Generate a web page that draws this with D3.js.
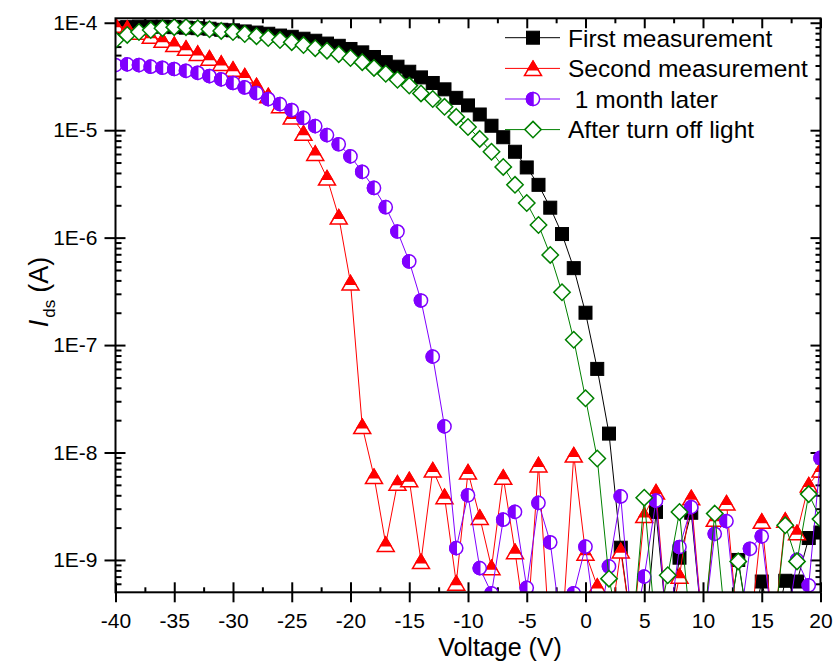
<!DOCTYPE html>
<html>
<head>
<meta charset="utf-8">
<script src="https://cdn.jsdelivr.net/npm/d3@7"></script>
<style>
  body { margin: 0; background: #fff; }
  svg { display: block; font-family: Arial, "Liberation Sans", sans-serif; }
</style>
</head>
<body>
<svg id="chart" width="833" height="664"></svg>
<script>
// Gate voltage sweep (V)
const voltage = [
  -40, -39, -38, -37, -36, -35, -34, -33, -32, -31,
  -30, -29, -28, -27, -26, -25, -24, -23, -22, -21,
  -20, -19, -18, -17, -16, -15, -14, -13, -12, -11,
  -10, -9, -8, -7, -6, -5, -4, -3, -2, -1,
  0, 1, 2, 3, 4, 5, 6, 7, 8, 9,
  10, 11, 12, 13, 14, 15, 16, 17, 18, 19, 20
];

// Drain-source current (A) for each sweep
const firstMeasurement = [
  9.0e-5, 9.1e-5, 9.2e-5, 9.2e-5, 9.2e-5, 9.1e-5, 9.0e-5, 8.9e-5, 8.8e-5, 8.6e-5,
  8.5e-5, 8.3e-5, 8.1e-5, 7.9e-5, 7.6e-5, 7.4e-5, 7.1e-5, 6.8e-5, 6.4e-5, 6.1e-5,
  5.7e-5, 5.3e-5, 4.8e-5, 4.3e-5, 3.9e-5, 3.5e-5, 3.1e-5, 2.75e-5, 2.4e-5, 2.0e-5,
  1.7e-5, 1.4e-5, 1.1e-5, 8.6e-6, 6.3e-6, 4.5e-6, 3.1e-6, 1.9e-6, 1.08e-6, 5.2e-7,
  2.0e-7, 6.0e-8, 1.5e-8, 1.3e-9, 2.0e-10, 1.5e-10, 2.8e-9, 2.0e-10, 1.05e-9, 2.75e-9,
  2.0e-10, 1.5e-10, 2.0e-10, 1.0e-9, 2.0e-10, 6.3e-10, 2.0e-10, 6.4e-10, 6.3e-10, 1.6e-9, 1.8e-9
];

const secondMeasurement = [
  9.5e-5, 8.9e-5, 8.2e-5, 7.5e-5, 6.9e-5, 6.3e-5, 5.8e-5, 5.2e-5, 4.7e-5, 4.2e-5,
  3.7e-5, 3.2e-5, 2.6e-5, 2.1e-5, 1.7e-5, 1.33e-5, 9.4e-6, 6.1e-6, 3.6e-6, 1.56e-6,
  3.8e-7, 1.75e-8, 6.0e-9, 1.4e-9, 5.2e-9, 5.6e-9, 9.7e-10, 6.9e-9, 3.9e-9, 6.1e-10,
  6.6e-9, 2.5e-9, 8.5e-10, 5.9e-9, 1.2e-9, 2.0e-10, 7.7e-9, 1.5e-10, 2.0e-10, 9.5e-9,
  1.16e-9, 5.7e-10, 2.0e-10, 1.22e-9, 2.0e-10, 2.6e-9, 4.3e-9, 2.0e-10, 7.1e-10, 3.8e-9,
  2.0e-10, 2.4e-9, 3.4e-9, 2.0e-10, 2.0e-10, 2.3e-9, 2.0e-10, 2.35e-9, 1.8e-9, 5.0e-9, 6.9e-9
];

const monthLater = [
  4.04e-5, 4.1e-5, 4.04e-5, 3.9e-5, 3.81e-5, 3.71e-5, 3.57e-5, 3.42e-5, 3.19e-5, 2.97e-5,
  2.75e-5, 2.5e-5, 2.22e-5, 1.95e-5, 1.75e-5, 1.54e-5, 1.3e-5, 1.09e-5, 9.0e-6, 7.4e-6,
  5.7e-6, 4.1e-6, 2.9e-6, 1.92e-6, 1.14e-6, 6.0e-7, 2.6e-7, 7.8e-8, 1.75e-8, 1.29e-9,
  4.0e-9, 8.4e-10, 4.9e-10, 2.37e-9, 2.8e-9, 5.5e-10, 3.4e-9, 1.46e-9, 2.0e-10, 4.9e-10,
  1.33e-9, 2.0e-10, 8.7e-10, 3.9e-9, 2.0e-10, 7.0e-10, 3.56e-9, 2.0e-10, 1.32e-9, 3.1e-9,
  2.0e-10, 1.75e-9, 2.3e-9, 2.0e-10, 1.27e-9, 1.66e-9, 2.0e-10, 2.0e-10, 1.0e-9, 5.8e-10, 8.9e-9
];

const afterLightOff = [
  6.9e-5, 7.7e-5, 8.2e-5, 8.55e-5, 8.9e-5, 9.1e-5, 9.1e-5, 8.9e-5, 8.7e-5, 8.4e-5,
  8.2e-5, 7.85e-5, 7.5e-5, 7.2e-5, 6.9e-5, 6.6e-5, 6.2e-5, 5.8e-5, 5.5e-5, 5.1e-5,
  4.7e-5, 4.3e-5, 3.8e-5, 3.35e-5, 2.95e-5, 2.6e-5, 2.2e-5, 1.95e-5, 1.65e-5, 1.33e-5,
  1.07e-5, 8.3e-6, 6.3e-6, 4.55e-6, 3.1e-6, 2.1e-6, 1.31e-6, 6.9e-7, 3.1e-7, 1.12e-7,
  3.2e-8, 8.8e-9, 6.7e-10, 2.0e-10, 2.0e-10, 3.8e-9, 2.0e-10, 7.2e-10, 2.8e-9, 2.0e-10,
  2.0e-10, 2.7e-9, 2.0e-10, 9.7e-10, 2.0e-10, 2.0e-10, 2.0e-10, 2.1e-9, 9.7e-10, 4.1e-9, 2.4e-9
];

const seriesNames = ["First measurement", "Second measurement", " 1 month later", "After turn off light"];

const xTickValues = [-40, -35, -30, -25, -20, -15, -10, -5, 0, 5, 10, 15, 20];
const xTickLabels = ["-40", "-35", "-30", "-25", "-20", "-15", "-10", "-5", "0", "5", "10", "15", "20"];
const xMinorValues = [-37.5, -32.5, -27.5, -22.5, -17.5, -12.5, -7.5, -2.5, 2.5, 7.5, 12.5, 17.5];
const yTickValues = [1e-4, 1e-5, 1e-6, 1e-7, 1e-8, 1e-9];
const yTickLabels = ["1E-4", "1E-5", "1E-6", "1E-7", "1E-8", "1E-9"];

// ---- layout ----
const svg = d3.select("#chart");
const plot = { left: 115.5, right: 820.5, top: 18.3, bottom: 592.3 };

const x = d3.scaleLinear().domain([-40, 20]).range([plot.left, plot.right]);
const y = d3.scaleLog().domain([5e-10, 1.1e-4]).range([plot.bottom, plot.top]);

// minor log ticks: 2..9 within each decade, inside the domain
const yMinorValues = [];
[-10, -9, -8, -7, -6, -5].forEach(e => {
  for (let m = 2; m <= 9; m++) {
    const v = m * Math.pow(10, e);
    if (v > 5e-10 && v < 1.1e-4) yMinorValues.push(v);
  }
});

const fontFamily = "Arial, 'Liberation Sans', sans-serif";
const tickStyle = g => {
  g.select(".domain").remove();
  g.selectAll(".tick line").attr("stroke", "#000").attr("stroke-width", 2);
};
const labelStyle = g => g.selectAll("text")
  .attr("font-size", 21).attr("fill", "#000").attr("font-family", fontFamily);

// bottom axis
svg.append("g").attr("transform", `translate(0,${plot.bottom})`)
  .call(d3.axisBottom(x).tickValues(xTickValues).tickSize(10).tickPadding(11)
    .tickFormat((d, i) => xTickLabels[i]))
  .call(tickStyle).call(labelStyle);
svg.append("g").attr("transform", `translate(0,${plot.bottom})`)
  .call(d3.axisBottom(x).tickValues(xTickValues).tickSize(-10).tickFormat(""))
  .call(tickStyle);
svg.append("g").attr("transform", `translate(0,${plot.bottom})`)
  .call(d3.axisBottom(x).tickValues(xMinorValues).tickSize(-5).tickFormat(""))
  .call(tickStyle);

// top axis
svg.append("g").attr("transform", `translate(0,${plot.top})`)
  .call(d3.axisTop(x).tickValues(xTickValues).tickSize(-10).tickFormat(""))
  .call(tickStyle);
svg.append("g").attr("transform", `translate(0,${plot.top})`)
  .call(d3.axisTop(x).tickValues(xMinorValues).tickSize(-5).tickFormat(""))
  .call(tickStyle);

// left axis
svg.append("g").attr("transform", `translate(${plot.left},0)`)
  .call(d3.axisLeft(y).tickValues(yTickValues).tickSize(11).tickPadding(7)
    .tickFormat((d, i) => yTickLabels[i]))
  .call(tickStyle).call(labelStyle);
svg.append("g").attr("transform", `translate(${plot.left},0)`)
  .call(d3.axisLeft(y).tickValues(yTickValues).tickSize(-10).tickFormat(""))
  .call(tickStyle);
svg.append("g").attr("transform", `translate(${plot.left},0)`)
  .call(d3.axisLeft(y).tickValues(yMinorValues).tickSize(-6).tickFormat(""))
  .call(tickStyle);

// right axis
svg.append("g").attr("transform", `translate(${plot.right},0)`)
  .call(d3.axisRight(y).tickValues(yTickValues).tickSize(-10).tickFormat(""))
  .call(tickStyle);
svg.append("g").attr("transform", `translate(${plot.right},0)`)
  .call(d3.axisRight(y).tickValues(yMinorValues).tickSize(-5).tickFormat(""))
  .call(tickStyle);

// ---- data marks ----
svg.append("defs").append("clipPath").attr("id", "plot-clip")
  .append("rect")
  .attr("x", plot.left).attr("y", plot.top)
  .attr("width", plot.right - plot.left).attr("height", plot.bottom - plot.top);

const marks = svg.append("g").attr("clip-path", "url(#plot-clip)");

// symbol drawers, each draws one marker centred on (0,0) inside group g
const symbols = {
  square: (g, c) => {
    g.append("rect").attr("x", -6.5).attr("y", -6.5).attr("width", 13).attr("height", 13)
      .attr("fill", c).attr("stroke", c).attr("stroke-width", 1);
  },
  triangle: (g, c) => {
    const w = 8.5, h = 7.2, cut = -h + 2 * h * 0.6;
    g.append("path").attr("d", `M0,${-h}L${w},${h}L${-w},${h}Z`)
      .attr("fill", "#fff").attr("stroke", c).attr("stroke-width", 1.5).attr("stroke-linejoin", "miter");
    const wc = w * (cut + h) / (2 * h);
    g.append("path").attr("d", `M0,${-h}L${wc},${cut}L${-wc},${cut}Z`)
      .attr("fill", c).attr("stroke", c).attr("stroke-width", 1.5);
  },
  halfCircle: (g, c) => {
    const r = 6.6;
    g.append("circle").attr("r", r).attr("fill", "#fff").attr("stroke", c).attr("stroke-width", 1.5);
    g.append("path").attr("d", `M0,${-r}A${r},${r} 0 0 0 0,${r}Z`).attr("fill", c).attr("stroke", c).attr("stroke-width", 1.5);
  },
  diamond: (g, c) => {
    const s = 8.2;
    g.append("path").attr("d", `M0,${-s}L${s},0L0,${s}L${-s},0Z`)
      .attr("fill", "#fff").attr("stroke", c).attr("stroke-width", 1.5);
  }
};

const series = [
  { name: seriesNames[0], values: firstMeasurement, color: "#000000", symbol: "square" },
  { name: seriesNames[1], values: secondMeasurement, color: "#ff0000", symbol: "triangle" },
  { name: seriesNames[2], values: monthLater, color: "#8000ff", symbol: "halfCircle" },
  { name: seriesNames[3], values: afterLightOff, color: "#008000", symbol: "diamond" }
];

const line = d3.line().x(d => x(d[0])).y(d => y(d[1]));

series.forEach(s => {
  const pts = voltage.map((v, i) => [v, s.values[i]]);
  const g = marks.append("g");
  g.append("path").datum(pts).attr("d", line)
    .attr("fill", "none").attr("stroke", s.color).attr("stroke-width", 1);
  g.selectAll("g.pt").data(pts).join("g").attr("class", "pt")
    .attr("transform", d => `translate(${x(d[0])},${y(d[1])})`)
    .each(function () { symbols[s.symbol](d3.select(this), s.color); });
});

// frame
svg.append("rect")
  .attr("x", plot.left).attr("y", plot.top)
  .attr("width", plot.right - plot.left).attr("height", plot.bottom - plot.top)
  .attr("fill", "none").attr("stroke", "#000").attr("stroke-width", 2);

// ---- legend ----
const legend = svg.append("g");
const rowY = [37.7, 68.4, 99.0, 129.6];
series.forEach((s, i) => {
  const row = legend.append("g").attr("transform", `translate(0,${rowY[i]})`);
  row.append("line").attr("x1", 505).attr("x2", 560).attr("y1", 0).attr("y2", 0)
    .attr("stroke", s.color).attr("stroke-width", 1);
  const m = row.append("g").attr("transform", "translate(533,0)");
  symbols[s.symbol](m, s.color);
  row.append("text").attr("x", 568).attr("y", 0).attr("dy", "0.36em")
    .attr("font-size", 24.5).attr("fill", "#000").style("white-space", "pre")
    .text(s.name);
});

// ---- axis titles ----
svg.append("text")
  .attr("x", 500).attr("y", 656)
  .attr("text-anchor", "middle").attr("font-size", 25).attr("fill", "#000")
  .text("Voltage (V)");

const yTitle = svg.append("text")
  .attr("transform", "translate(48,292) rotate(-90)")
  .attr("text-anchor", "middle").attr("font-size", 27).attr("fill", "#000");
yTitle.append("tspan").attr("font-style", "italic").text("I");
yTitle.append("tspan").attr("font-size", 17).attr("dy", 7).attr("dx", 2).text("ds");
yTitle.append("tspan").attr("dy", -7).attr("dx", 7).text("(A)");
</script>
</body>
</html>
